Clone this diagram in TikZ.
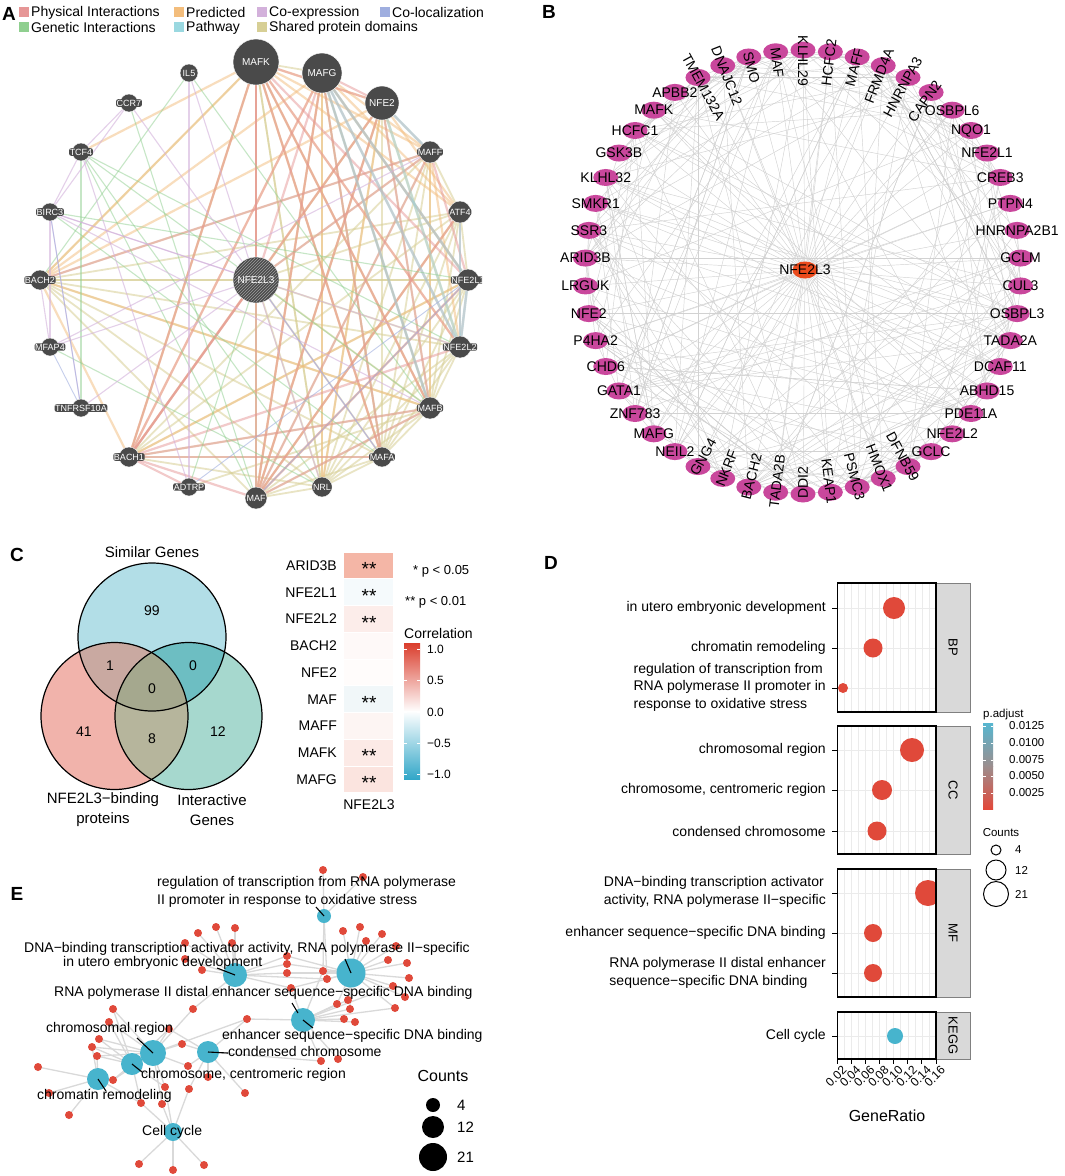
\documentclass[tikz,border=0pt]{standalone}
\usepackage{fontspec}
\setmainfont{Liberation Sans}
\usetikzlibrary{patterns,shapes.geometric}
\newcommand\myfs[2]{\fontsize{#1}{#2}\selectfont}
\definecolor{agray}{HTML}{4A4A4A}
\definecolor{physC}{HTML}{E69696}
\definecolor{predC}{HTML}{F3BD7C}
\definecolor{coexC}{HTML}{D3B1DB}
\definecolor{colocC}{HTML}{9FAEDF}
\definecolor{genC}{HTML}{8FCF8F}
\definecolor{pathC}{HTML}{9AD8E0}
\definecolor{shareC}{HTML}{D7CF95}
\definecolor{bmag}{HTML}{C9479C}
\definecolor{bred}{HTML}{EA4A1C}
\definecolor{bedgeC}{HTML}{D2D2D2}
\definecolor{hubC}{HTML}{47B4CD}
\definecolor{dotC}{HTML}{E0493A}
\definecolor{eedgeC}{HTML}{D9D9D9}
\definecolor{vblue}{HTML}{B2DEE7}
\definecolor{vpink}{HTML}{F1B3AB}
\definecolor{vteal}{HTML}{A6D8CE}
\definecolor{vpb}{HTML}{C9A9A1}
\definecolor{vbt}{HTML}{6DBEC2}
\definecolor{vpt}{HTML}{B6B59C}
\definecolor{vall}{HTML}{A5A88E}
\definecolor{hm1}{HTML}{F4B6A6}
\definecolor{hm2}{HTML}{F5FAFC}
\definecolor{hm3}{HTML}{FCEDEA}
\definecolor{hm4}{HTML}{FEF9F8}
\definecolor{hm5}{HTML}{FFFCFB}
\definecolor{hm6}{HTML}{F1F7F9}
\definecolor{hm7}{HTML}{FDF5F3}
\definecolor{hm8}{HTML}{FCEAE6}
\definecolor{hm9}{HTML}{FBE4DF}
\definecolor{corRed}{HTML}{DA3D2C}
\definecolor{corBlue}{HTML}{33A7C8}
\definecolor{padjBlue}{HTML}{56B6D0}
\definecolor{padjGray}{HTML}{9C8E8E}
\definecolor{padjRed}{HTML}{E2483A}
\definecolor{stripC}{HTML}{D9D9D9}
\definecolor{gridC}{HTML}{EBEBEB}
\begin{document}
\begin{tikzpicture}[x=1pt,y=-1pt,
  panellet/.style={font=\myfs{19}{19}\bfseries, inner sep=0},
  ephys/.style={draw=physC, line width=2.2pt, opacity=.5},
  epred/.style={draw=predC, line width=2.2pt, opacity=.5},
  eshare/.style={draw=shareC, line width=1.8pt, opacity=.55},
  egen/.style={draw=genC, line width=1.1pt, opacity=.5},
  ecoex/.style={draw=coexC, line width=1.1pt, opacity=.6},
  ecoloc/.style={draw=colocC, line width=.9pt, opacity=.6},
  epath/.style={draw=pathC, line width=2.6pt, opacity=.5},
  anode/.style={circle, fill=agray, draw=white, line width=.4pt, inner sep=0},
  alabel/.style={font=\myfs{9}{9}, text=white, fill=agray, inner sep=.6pt, rounded corners=2pt},
  abiglabel/.style={font=\myfs{10}{10}, text=white, inner sep=0},
  bedge/.style={draw=bedgeC, line width=.45pt},
  bnode/.style={ellipse, fill=bmag, minimum width=25pt, minimum height=17pt, inner sep=0},
  blabel/.style={font=\myfs{14}{14}, inner sep=0},
  txt/.style={font=\myfs{14}{14}, inner sep=0},
  txts/.style={font=\myfs{12}{12}, inner sep=0},
  txtxs/.style={font=\myfs{11.5}{11.5}, inner sep=0},
  eedge/.style={draw=eedgeC, line width=1.3pt},
  hub/.style={circle, fill=hubC, inner sep=0},
  rdot/.style={circle, fill=dotC, minimum size=8pt, inner sep=0},
  lead/.style={draw=black, line width=1.1pt},
  dgrid/.style={draw=gridC, line width=.6pt},
  ddot/.style={circle, fill=dotC, inner sep=0},
]
\useasboundingbox (0,0) rectangle (1065,1176);
\fill[white] (0,0) rectangle (1065,1176);

%================ PANEL A ================
\node[panellet] (labA) at (9,14) {A};
\foreach \c/\t/\x/\y [count=\i] in {physC/Physical Interactions/19/12.5, predC/Predicted/174/12.5, coexC/Co-expression/257/12.5, colocC/Co-localization/380/12.5, genC/Genetic Interactions/19/27.5, pathC/Pathway/174/27.5, shareC/Shared protein domains/257/27.5}{
  \fill[\c] (\x,\y-5.5) rectangle (\x+9.5,\y+4.5);
  \node[anchor=west, txt] (lg\i) at (\x+12,\y) {\t};
}
\foreach \nm/\x/\y in {MAFK/256/62, MAFG/322/73, NFE2/382/103, IL5/189/73, CCR7/129/103, TCF4/81/152, MAFF/430/152, BIRC3/50/212, ATF4/460/212, BACH2/40/280, NFE2L3/256/280, NFE2L1/468/280, MFAP4/50/347, NFE2L2/460/347, TNFRSF10A/81/408, MAFB/430/408, BACH1/129/457, MAFA/382/457, ADTRP/189/487, MAF/256/498, NRL/322/487}
  \coordinate (a\nm) at (\x,\y);
% edges
\foreach \a/\b in {MAFK/MAF, MAF/NRL, MAFA/NRL, MAFB/NRL, MAFA/MAFB, MAF/MAFF, MAF/MAFG, MAFA/MAFK, MAFA/MAFG, NRL/MAFK, NRL/MAFG, MAFB/MAFK, MAFB/MAFG, MAFF/NRL, MAFF/MAFA, MAFF/MAFB, BACH2/NFE2L3, BACH2/NFE2L2, BACH1/NFE2L1, NFE2L3/NFE2L1, NFE2L3/NFE2L2, NFE2L3/NFE2, NFE2L3/MAF, NFE2L3/MAFA, NFE2L3/NRL, NFE2L3/MAFB, ATF4/MAFA, ATF4/NRL, MAFB/BACH2, MAFA/BACH1, NRL/BACH1, BACH2/MAFA, BACH2/NRL, BACH2/MAF, BACH1/MAFB, NFE2/MAFA, NFE2/NRL, NFE2/MAF, NFE2L1/MAFA, NFE2L1/NRL, NFE2L2/MAFA, NFE2L2/NRL, NFE2L2/MAF, NFE2L1/MAF, ATF4/MAFB, ATF4/MAF, ATF4/BACH2, MAFK/MAFG, MAF/MAFA, MAF/MAFB, BACH2/NFE2L1, BACH1/MAFF, BACH1/ATF4, MAFK/NRL, NFE2L1/MAFB, NFE2L2/MAFB, BACH2/MAFF, BACH1/MAFK, MAFG/MAFA, NFE2/MAFB, ADTRP/MAFB, BACH2/MAFK, BACH1/NFE2L3, MAFF/NFE2L3, ATF4/NFE2L3, ATF4/NFE2L1, MAFF/ATF4}
  \draw[eshare] (a\a) -- (a\b);
\foreach \a/\b in {MAFK/BACH2, MAFK/TCF4, MAFK/BACH1, MAFG/BACH2, MAFG/ATF4, NFE2/NFE2L2, NFE2L3/MAFK, MAFF/NFE2L2, BACH1/NFE2, MAFK/MAFF, MAFG/MAFF, NFE2/ATF4, MAFK/ATF4, NFE2/BACH2, BACH2/BACH1, NFE2L1/MAFG, MAF/NFE2, BACH2/MAFB, MAFK/NFE2L2, MAFG/BACH1, MAFK/NFE2, MAFK/MAFB, MAFG/MAF, MAFG/NRL, NFE2/NRL, MAFF/MAFB, NFE2L1/BACH1, MAFK/MAFA, ATF4/MAF}
  \draw[epred] (a\a) -- (a\b);
\foreach \a/\b in {MAFK/BACH1, MAFK/MAF, MAFK/NFE2L1, MAFK/NFE2, MAFK/NFE2L3, MAFK/MAFB, MAFG/MAF, MAFG/NFE2L2, MAFG/NFE2, MAFG/MAFB, NFE2/MAFF, NFE2/BACH1, NFE2L3/BACH1, NFE2L3/MAFF, NFE2L3/MAFG, MAF/NFE2L1, MAF/ATF4, BACH1/NFE2L2, BACH1/MAF, MAFF/NFE2L1, MAFF/BACH2, MAFB/MAF, ATF4/NFE2L2, NFE2L1/NFE2L2, MAFG/NFE2L1, NFE2/MAFB, MAFK/NFE2L2, MAFG/BACH1, BACH1/MAFB, MAFK/MAFA, MAFG/MAFA, MAFF/MAF, NFE2/MAF, BACH1/ADTRP, BACH1/MAFA}
  \draw[ephys] (a\a) -- (a\b);
\foreach \a/\b in {MAFG/NFE2L2, NFE2/NFE2L2, ATF4/NFE2L2, NFE2/MAFF, NFE2L1/NFE2L2, MAFG/NFE2L1, MAFG/MAFB}
  \draw[epath] (a\a) -- (a\b);
\foreach \a/\b in {IL5/BACH2, TCF4/NFE2L2, TCF4/MAFB, TCF4/MAF, BIRC3/MAFA, TNFRSF10A/TCF4, MFAP4/NRL, CCR7/MAF, IL5/MAFB, TCF4/NRL, BIRC3/NFE2L1, NFE2L3/ADTRP}
  \draw[egen] (a\a) -- (a\b);
\foreach \a/\b in {CCR7/TCF4, CCR7/BIRC3, CCR7/MAFA, BIRC3/NFE2L3, MFAP4/NFE2L3, MFAP4/BIRC3, TCF4/BIRC3, TNFRSF10A/BIRC3, IL5/NRL, BACH2/MFAP4, ADTRP/TCF4, BIRC3/NFE2L2, MFAP4/MAFF, TNFRSF10A/NFE2L3, ADTRP/IL5, BIRC3/MAFB}
  \draw[ecoex] (a\a) -- (a\b);
\foreach \a/\b in {BIRC3/TNFRSF10A, MAF/NFE2L1, ADTRP/NFE2L1, MFAP4/TNFRSF10A, NFE2L3/MAFA}
  \draw[ecoloc] (a\a) -- (a\b);
% nodes
\foreach \nm/\rad in {MAFK/23, MAFG/20, NFE2/17, IL5/9, CCR7/9, TCF4/9, MAFF/11, BIRC3/9, ATF4/11, BACH2/10, NFE2L3/23, NFE2L1/11, MFAP4/9, NFE2L2/11, TNFRSF10A/9, MAFB/11, BACH1/10, MAFA/10, ADTRP/9, MAF/11, NRL/10}
  \node[anode, minimum size=2*\rad] (na\nm) at (a\nm) {};
\fill[pattern=north east lines, pattern color=gray!75] (aNFE2L3) circle (22);
\foreach \nm in {MAFK, MAFG, NFE2, NFE2L3}
  \node[abiglabel] (la\nm) at (a\nm) {\nm};
\begin{scope}
\clip (0,40) rectangle (482,520);
\foreach \nm in {IL5, CCR7, TCF4, MAFF, BIRC3, ATF4, BACH2, NFE2L1, MFAP4, NFE2L2, TNFRSF10A, MAFB, BACH1, MAFA, ADTRP, MAF, NRL}
  \node[alabel] (la\nm) at (a\nm) {\nm};
\end{scope}

%================ PANEL B ================
\node[panellet] (labB) at (549,12) {B};
\def\bnames{KLHL29,HCFC2,MAFF,FRMD4A,HNRNPA3,CAPN2,OSBPL6,NQO1,NFE2L1,CREB3,PTPN4,HNRNPA2B1,GCLM,CUL3,OSBPL3,TADA2A,DCAF11,ABHD15,PDE11A,NFE2L2,GCLC,DFNB59,HMOX1,PSMC3,KEAP1,DDI2,TADA2B,BACH2,NKRF,GNG4,NEIL2,MAFG,ZNF783,GATA1,CHD6,P4HA2,NFE2,LRGUK,ARID3B,SSR3,SMKR1,KLHL32,GSK3B,HCFC1,MAFK,APBB2,TMEM132A,DNAJC12,SMO,MAF}
\coordinate (bc) at (805,270);
\foreach \i in {0,...,49}{
  \pgfmathsetmacro\th{7.2*\i}
  \coordinate (b\i) at ({803+218*sin(\th)},{272-222*cos(\th)});
}
\foreach \i in {0,...,49} \draw[bedge] (bc) -- (b\i);
\pgfmathsetseed{2024}
\foreach \k in {1,...,230}{
  \pgfmathtruncatemacro\ra{random(0,49)}
  \pgfmathtruncatemacro\rb{random(0,49)}
  \draw[bedge] (b\ra) -- (b\rb);
}
\foreach \i in {0,...,49} \node[bnode] (bn\i) at (b\i) {};
\node[bnode, fill=bred] (bnc) at (bc) {};
\node[blabel] (blc) at (bc) {NFE2L3};
\foreach \nm [count=\i from 0] in \bnames {
  \pgfmathsetmacro\th{7.2*\i}
  \pgfmathtruncatemacro\kind{((\i==0)||((\i>=25)&&(\i<=29))||(\i>=46)) ? 2 : ((((\i>=1)&&(\i<=5))||((\i>=21)&&(\i<=24))) ? 1 : 0)}
  \ifcase\kind
    \node[blabel] (bl\i) at (b\i) {\nm};
  \or
    \pgfmathsetmacro\rr{90-\th}
    \node[blabel, rotate=\rr] (bl\i) at ({803+207*sin(\th)},{272-211*cos(\th)}) {\nm};
  \or
    \pgfmathsetmacro\rr{-90-\th}
    \node[blabel, rotate=\rr] (bl\i) at ({803+207*sin(\th)},{272-211*cos(\th)}) {\nm};
  \fi
}

%================ PANEL C ================
\node[panellet] (labC) at (17,555) {C};
\fill[vblue] (152,637) circle (74);
\fill[vpink] (114.5,716) circle (73.5);
\fill[vteal] (188.5,716) circle (73.5);
\begin{scope}\clip (114.5,716) circle (73.5); \fill[vpb] (152,637) circle (74);\end{scope}
\begin{scope}\clip (152,637) circle (74); \fill[vbt] (188.5,716) circle (73.5);\end{scope}
\begin{scope}\clip (114.5,716) circle (73.5); \fill[vpt] (188.5,716) circle (73.5);\end{scope}
\begin{scope}\clip (114.5,716) circle (73.5); \clip (152,637) circle (74); \fill[vall] (188.5,716) circle (73.5);\end{scope}
\draw[line width=1.2pt] (152,637) circle (74);
\draw[line width=1.2pt] (114.5,716) circle (73.5);
\draw[line width=1.2pt] (188.5,716) circle (73.5);
\node[font=\myfs{15}{15}, inner sep=0] (vsim) at (152,552) {Similar Genes};
\node[txt] (v99) at (152,611) {99};
\node[txt] (v1) at (110,666) {1};
\node[txt] (v0a) at (193,666) {0};
\node[txt] (v0b) at (152,689) {0};
\node[txt] (v41) at (84,732) {41};
\node[txt] (v8) at (152,739) {8};
\node[txt] (v12) at (218,732) {12};
\node[font=\myfs{15}{20}, align=center, inner sep=0] (vbind) at (103,810) {NFE2L3\char"2212 binding\\proteins};
\node[font=\myfs{15}{20}, align=center, inner sep=0] (vint) at (212,810) {Interactive\\Genes};
% heatmap
\foreach \g/\c/\s [count=\i from 0] in {ARID3B/hm1/**, NFE2L1/hm2/**, NFE2L2/hm3/**, BACH2/hm4/{}, NFE2/hm5/{}, MAF/hm6/**, MAFF/hm7/{}, MAFK/hm8/**, MAFG/hm9/**}{
  \pgfmathsetmacro\yy{565.5+26.75*\i}
  \fill[\c] (344,\yy-12.8) rectangle (393,\yy+12.8);
  \node[anchor=east, txt] (hl\i) at (337,\yy) {\g};
  \node[font=\myfs{19}{19}, inner sep=0] (hs\i) at (369,\yy+3.5) {\s};
}
\node[txt] (hx) at (369,805) {NFE2L3};
\node[font=\myfs{13}{13}, inner sep=0, anchor=west] (p1) at (413,571) {* p < 0.05};
\node[font=\myfs{13}{13}, inner sep=0, anchor=west] (p2) at (405,602) {** p < 0.01};
\node[txt, anchor=west] (corT) at (404,633) {Correlation};
\shade[top color=corRed, bottom color=white] (404,643) rectangle (420,711.5);
\shade[top color=white, bottom color=corBlue] (404,711) rectangle (420,779);
\foreach \v/\yy in {1.0/649, 0.5/680, 0.0/712, \char"2212 0.5/743, \char"2212 1.0/774}{
  \draw[white, line width=.8pt] (404,\yy) -- (407,\yy) (417,\yy) -- (420,\yy);
  \node[txts, anchor=west] at (427,\yy) {\v};
}

%================ PANEL D ================
\node[panellet] (labD) at (551,563) {D};
\newcommand\dpanel[3]{%
  \fill[white] (837.3,#1) rectangle (936,#2);
  \foreach \k in {0,...,14}{\draw[dgrid] ({837.3+\k*7.05},#1) -- ({837.3+\k*7.05},#2);}
  \fill[stripC] (936,#1) rectangle (970,#2);
  \draw[gray, line width=.8pt] (936,#1) rectangle (970,#2);
  \node[font=\myfs{13}{13}, inner sep=0, rotate=-90] at (953,{(#1+#2)/2}) {#3};
}
\dpanel{583}{712}{BP}
\dpanel{726}{854}{CC}
\dpanel{869}{997}{MF}
\dpanel{1012}{1059}{KEGG}
\foreach \yy in {608,648,688,750,790,831,893,933,973,1036}{
  \draw[dgrid] (837.3,\yy) -- (936,\yy);
  \draw[line width=1pt] (832,\yy) -- (837.3,\yy);
}
\begin{scope}
\clip (837.3,583) rectangle (936,1059);
\foreach \x/\yy/\rad [count=\i] in {894/608/11, 873/648/9.5, 843/688/5, 912/750/12, 882/790/10, 877/831/9.5, 928/893/13, 873/933/9, 873/973/9}
  \node[ddot, minimum size=2*\rad] (dd\i) at (\x,\yy) {};
\node[ddot, fill=hubC, minimum size=16pt] (dd10) at (895,1036) {};
\end{scope}
\foreach \ya/\yb in {583/712, 726/854, 869/997, 1012/1059}
  \draw[line width=1.2pt] (837.3,\ya) rectangle (936,\yb);
\node[txt, anchor=east] (dl1) at (826,608) {in utero embryonic development};
\node[txt, anchor=east] (dl2) at (826,648) {chromatin remodeling};
\node[font=\myfs{14}{17.5}, inner sep=0, anchor=east, align=left] (dl3) at (826,687) {regulation of transcription from\\RNA polymerase II promoter in\\response to oxidative stress};
\node[txt, anchor=east] (dl4) at (826,750) {chromosomal region};
\node[txt, anchor=east] (dl5) at (826,790) {chromosome, centromeric region};
\node[txt, anchor=east] (dl6) at (826,831) {condensed chromosome};
\node[font=\myfs{14}{17.5}, inner sep=0, anchor=east, align=left] (dl7) at (826,892) {DNA\char"2212 binding transcription activator\\activity, RNA polymerase II\char"2212 specific};
\node[txt, anchor=east] (dl8) at (826,933) {enhancer sequence\char"2212 specific DNA binding};
\node[font=\myfs{14}{17.5}, inner sep=0, anchor=east, align=left] (dl9) at (826,973) {RNA polymerase II distal enhancer\\sequence\char"2212 specific DNA binding};
\node[txt, anchor=east] (dl10) at (826,1036) {Cell cycle};
\foreach \v [count=\k from 0] in {0.02,0.04,0.06,0.08,0.10,0.12,0.14,0.16}{
  \draw[line width=1pt] ({837.3+\k*14.1},1059) -- ({837.3+\k*14.1},1064);
  \node[txts, rotate=45, anchor=north east] (dx\k) at ({837.3+\k*14.1+4},1065) {\v};
}
\node[font=\myfs{16}{16}, inner sep=0] (dxl) at (887,1116) {GeneRatio};
\node[txtxs, anchor=west] (padjT) at (983,715) {p.adjust};
\shade[top color=padjBlue, bottom color=padjGray] (983,723) rectangle (993,766.5);
\shade[top color=padjGray, bottom color=padjRed] (983,766) rectangle (993,809);
\foreach \v/\yy in {0.0125/726, 0.0100/743, 0.0075/760, 0.0050/776, 0.0025/793}{
  \draw[white, line width=.8pt] (983,\yy) -- (985.5,\yy) (990.5,\yy) -- (993,\yy);
  \node[txtxs, anchor=west] at (1009,\yy) {\v};
}
\node[txtxs] (cntT) at (1001,833) {Counts};
\foreach \rad/\yy/\v [count=\i] in {5/850/4, 10/870/12, 12.5/894/21}{
  \node[circle, draw=black, line width=1pt, minimum size=2*\rad, inner sep=0] (dc\i) at (996,\yy) {};
  \node[txtxs, anchor=west] (dcl\i) at (1015,\yy) {\v};
}

%================ PANEL E ================
\node[panellet] (labE) at (17,894) {E};
\foreach \nm/\x/\y in {Reg/324/916, Utero/235/975, Dna/351/973, Distal/303/1020, Cond/208/1052, Chrom/153/1053, Centro/132/1064, Remod/98/1079, Cell/173/1132}
  \coordinate (e\nm) at (\x,\y);
\foreach \k/\x/\y in {1/323/870, 2/363/877, 3/343/931, 4/360/927, 5/382/934, 6/366/941, 7/396/946, 8/388/960, 9/407/963, 10/409/978, 11/393/986, 12/405/997, 13/395/1008, 14/323/971, 15/327/979, 16/337/1004, 17/350/1009, 18/344/1019, 19/355/1022, 20/348/1000, 21/198/933, 22/216/927, 23/235/928, 24/185/943, 25/232/943, 26/185/959, 27/202/970, 28/287/956, 29/287/964, 30/287/973, 31/291/988, 32/193/1009, 33/247/1019, 34/113/1009, 35/109/1022, 36/169/1029, 37/182/1044, 38/99/1039, 39/92/1047, 40/97/1056, 41/38/1067, 42/113/1080, 43/165/1087, 44/189/1089, 45/188/1066, 46/208/1077, 47/245/1093, 48/49/1093, 49/69/1115, 50/141/1103, 51/162/1104, 52/321/1061, 53/338/1059, 54/139/1164, 55/173/1170, 56/204/1165}
  \coordinate (r\k) at (\x,\y);
\foreach \h/\list in {Reg/{1,2,14,15}, Dna/{3,4,5,6,7,8,9,10,11,12,13,14,15,16,17,20,28,29,30,31}, Distal/{11,13,14,16,17,18,19,20,31,33,52,53}, Utero/{15,21,22,23,24,25,26,27,28,29,30,31,32}, Cond/{33,36,37,44,45,46,47,52}, Chrom/{32,33,34,35,36,37,38,39,40,42,43,45,51}, Centro/{34,35,36,38,39,40,42,43,50}, Remod/{39,40,41,42,48,49,50}, Cell/{43,44,50,51,54,55,56}}
  \foreach \k in \list \draw[eedge] (e\h) -- (r\k);
\foreach \nm/\rad in {Reg/7, Utero/12, Dna/14.5, Distal/12, Cond/11, Chrom/13, Centro/11, Remod/11, Cell/9}
  \node[hub, minimum size=2*\rad] (h\nm) at (e\nm) {};
\foreach \k in {1,...,56} \node[rdot] (rd\k) at (r\k) {};
% leader lines
\coordinate (qReg) at (316,907); \coordinate (qUtero) at (217,968); \coordinate (qDna) at (345,959);
\coordinate (qDistal) at (292,1003); \coordinate (qEnh) at (313,1028); \coordinate (qCond) at (228,1053);
\coordinate (qChrom) at (137,1038); \coordinate (qCentro) at (142,1072); \coordinate (qRemod) at (106,1091);
\draw[lead] (qReg) -- (eReg);
\draw[lead] (qUtero) -- (eUtero);
\draw[lead] (qDna) -- (eDna);
\draw[lead] (qDistal) -- (298,1013);
\draw[lead] (qEnh) -- (eDistal);
\draw[lead] (qCond) -- (eCond);
\draw[lead] (qChrom) -- (eChrom);
\draw[lead] (qCentro) -- (eCentro);
\draw[lead] (qRemod) -- (eRemod);
\node[font=\myfs{14}{18}, inner sep=0, anchor=west, align=left] (el1) at (157,892) {regulation of transcription from RNA polymerase\\II promoter in response to oxidative stress};
\node[txt, anchor=west] (el2) at (24,949) {DNA\char"2212 binding transcription activator activity, RNA polymerase II\char"2212 specific};
\node[txt, anchor=west] (el3) at (63,963) {in utero embryonic development};
\node[txt, anchor=west] (el4) at (54,993) {RNA polymerase II distal enhancer sequence\char"2212 specific DNA binding};
\node[txt, anchor=west] (el5) at (46,1029) {chromosomal region};
\node[txt, anchor=west] (el6) at (222,1036) {enhancer sequence\char"2212 specific DNA binding};
\node[txt, anchor=west] (el7) at (228,1051) {condensed chromosome};
\node[txt, anchor=west] (el8) at (141,1075) {chromosome, centromeric region};
\node[txt, anchor=west] (el9) at (37,1096) {chromatin remodeling};
\node[txt, anchor=west] (el10) at (142,1132) {Cell cycle};
\node[font=\myfs{16}{16}, inner sep=0] (ecT) at (443,1076) {Counts};
\foreach \rad/\yy/\v [count=\i] in {7/1105/4, 11/1127/12, 14/1157/21}{
  \node[circle, fill=black, minimum size=2*\rad, inner sep=0] (ec\i) at (433,\yy) {};
  \node[font=\myfs{15}{15}, inner sep=0, anchor=west] (ecl\i) at (457,\yy) {\v};
}
\end{tikzpicture}
\end{document}
